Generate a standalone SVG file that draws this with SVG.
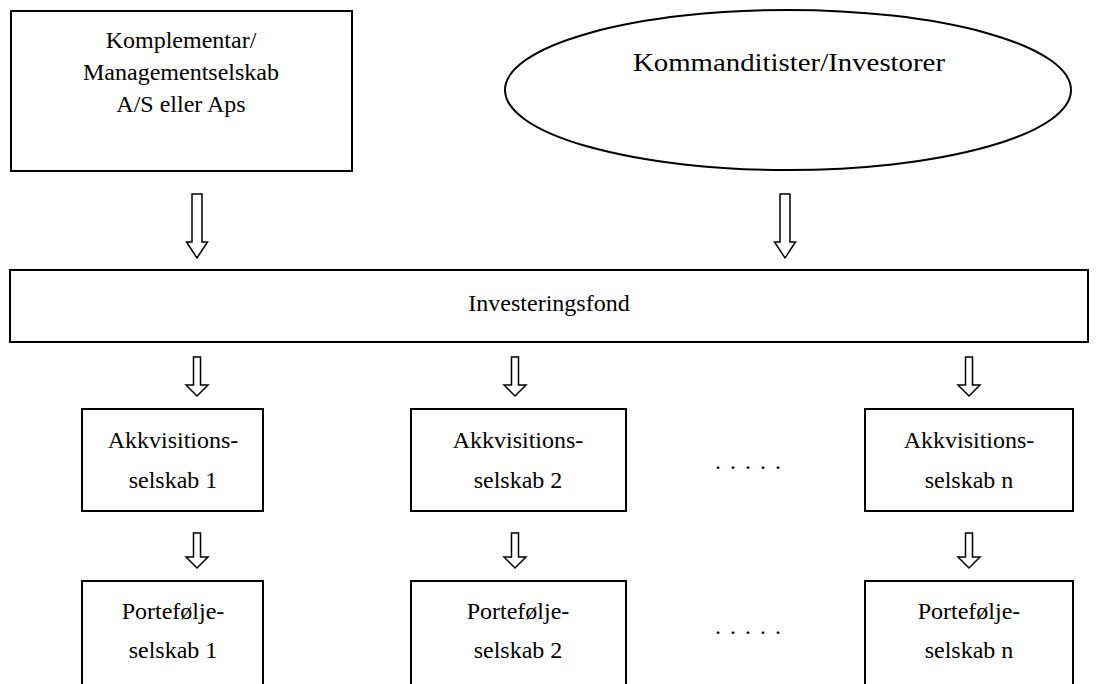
<svg xmlns="http://www.w3.org/2000/svg" width="1098" height="684" viewBox="0 0 1098 684">
<style>
.box{fill:#fff;stroke:#000;stroke-width:2}
.arr{fill:#fff;stroke:#000;stroke-width:1.5;stroke-linejoin:miter}
.t{font-family:"Liberation Serif","Times New Roman",serif;font-size:24px;fill:#000;text-anchor:middle}
.d{word-spacing:3px}
</style>
<rect width="1098" height="684" fill="#fff"/>
<g id="komplementar">
<rect class="box" x="11" y="11" width="341" height="160"/>
<text class="t" x="181" y="48">Komplementar/</text>
<text class="t" x="181" y="80">Managementselskab</text>
<text class="t" x="181" y="112">A/S eller Aps</text>
</g>
<g id="kommanditister">
<ellipse class="box" cx="788" cy="90" rx="283" ry="80"/>
<text class="t" x="789" y="71" style="font-size:26px" textLength="312" lengthAdjust="spacingAndGlyphs">Kommanditister/Investorer</text>
</g>
<g id="investeringsfond">
<rect class="box" x="10" y="270" width="1078" height="72"/>
<text class="t" x="549" y="311">Investeringsfond</text>
</g>
<g id="akk1">
<rect class="box" x="82" y="409" width="181" height="102"/>
<text class="t" x="173" y="448">Akkvisitions-</text>
<text class="t" x="173" y="488">selskab 1</text>
</g>
<g id="akk2">
<rect class="box" x="411" y="409" width="215" height="102"/>
<text class="t" x="518" y="448">Akkvisitions-</text>
<text class="t" x="518" y="488">selskab 2</text>
</g>
<g id="akkn">
<rect class="box" x="865" y="409" width="208" height="102"/>
<text class="t" x="969" y="448">Akkvisitions-</text>
<text class="t" x="969" y="488">selskab n</text>
</g>
<g id="dots1"><text class="t d" x="748" y="469">. . . . .</text></g>
<g id="port1">
<rect class="box" x="82" y="581" width="181" height="110"/>
<text class="t" x="173" y="619">Portefølje-</text>
<text class="t" x="173" y="658">selskab 1</text>
</g>
<g id="port2">
<rect class="box" x="411" y="581" width="215" height="110"/>
<text class="t" x="518" y="619">Portefølje-</text>
<text class="t" x="518" y="658">selskab 2</text>
</g>
<g id="portn">
<rect class="box" x="865" y="581" width="208" height="110"/>
<text class="t" x="969" y="619">Portefølje-</text>
<text class="t" x="969" y="658">selskab n</text>
</g>
<g id="dots2"><text class="t d" x="748" y="634">. . . . .</text></g>
<g id="connectors">
<polygon class="arr" points="192,194 202,194 202,242 207.5,242 197,258 186.5,242 192,242"/>
<polygon class="arr" points="780,194 790,194 790,242 795.5,242 785,258 774.5,242 780,242"/>
<polygon class="arr" points="193.5,357 200.5,357 200.5,385 208,385 197,396 186,385 193.5,385"/>
<polygon class="arr" points="511.5,357 518.5,357 518.5,385 526,385 515,396 504,385 511.5,385"/>
<polygon class="arr" points="965.5,357 972.5,357 972.5,385 980,385 969,396 958,385 965.5,385"/>
<polygon class="arr" points="193.5,533 200.5,533 200.5,557 208,557 197,568 186,557 193.5,557"/>
<polygon class="arr" points="511.5,533 518.5,533 518.5,557 526,557 515,568 504,557 511.5,557"/>
<polygon class="arr" points="965.5,533 972.5,533 972.5,557 980,557 969,568 958,557 965.5,557"/>
</g>
</svg>
